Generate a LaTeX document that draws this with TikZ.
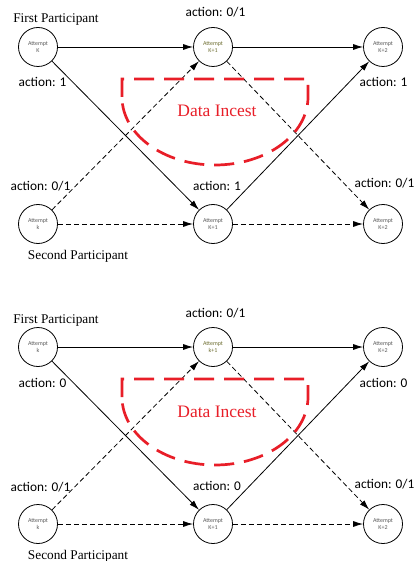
\documentclass[tikz,border=0pt]{standalone}
\usepackage{fontspec}
\setmainfont{Liberation Serif}
\newfontfamily\calib{Carlito}
\usetikzlibrary{arrows.meta}
\definecolor{incred}{RGB}{232,30,40}
\definecolor{nodegrey}{RGB}{90,90,90}
\definecolor{olivetext}{RGB}{110,110,50}
\tikzset{
  att/.style={circle,draw,line width=0.8pt,minimum size=39pt,inner sep=0pt,align=center,
    font=\calib\fontsize{6}{7.5}\selectfont,text=nodegrey},
  act/.style={anchor=base,font=\calib\fontsize{13.3}{15}\selectfont,inner sep=0pt},
  who/.style={anchor=base,font=\fontsize{13.3}{15}\selectfont,inner sep=0pt},
  incesttext/.style={anchor=base,font=\fontsize{17.5}{20}\selectfont,text=incred,inner sep=0pt},
  solidarrow/.style={line width=0.8pt,-{Latex[length=10pt,width=6pt]}},
  dasharrow/.style={line width=0.8pt,dash pattern=on 5pt off 3pt,-{Latex[length=10pt,width=6pt]}},
  incest/.style={draw=incred,line width=2.7pt,dash pattern=on 20pt off 10pt},
}
\newcommand\diagpanel[5]{%
  \begin{scope}[shift={(0,#2)}]
    \node[att] (#1a1) at (38,47) {Attempt\\#3};
    \node[att,text=olivetext] (#1b1) at (213,47) {Attempt\\#4};
    \node[att] (#1c1) at (383,47) {Attempt\\K+2};
    \node[att] (#1a2) at (38,224) {Attempt\\k};
    \node[att] (#1b2) at (213,224) {Attempt\\K+1};
    \node[att] (#1c2) at (383,224) {Attempt\\K+2};
    \draw[solidarrow] (#1a1) -- (#1b1);
    \draw[solidarrow] (#1b1) -- (#1c1);
    \draw[solidarrow] (#1a1) -- (#1b2);
    \draw[solidarrow] (#1b2) -- (#1c1);
    \draw[dasharrow] (#1a2) -- (#1b1);
    \draw[dasharrow] (#1a2) -- (#1b2);
    \draw[dasharrow] (#1b1) -- (#1c2);
    \draw[dasharrow] (#1b2) -- (#1c2);
    \draw[incest] (122,97) -- (122,79) -- (308,79) -- (308,97)
      arc[start angle=0, end angle=-180, x radius=93pt, y radius=68pt];
    \node[incesttext] (#1di) at (217,117) {Data Incest};
    \node[who] (#1fp) at (56,23) {First Participant};
    \node[who] (#1sp) at (78,259) {Second Participant};
    \node[act] (#1l1) at (215.5,17) {action: 0/1};
    \node[act] (#1l2) at (42.5,87) {action: #5};
    \node[act] (#1l3) at (383.5,87) {action: #5};
    \node[act] (#1l4) at (40.5,191) {action: 0/1};
    \node[act] (#1l5) at (217,190) {action: #5};
    \node[act] (#1l6) at (384.5,188) {action: 0/1};
  \end{scope}}
\begin{document}
\begin{tikzpicture}[x=1pt,y=-1pt]
  \useasboundingbox (0,0) rectangle (414,561);
  \diagpanel{t}{0}{K}{K+1}{1}
  \diagpanel{b}{300}{k}{k+1}{0}
\end{tikzpicture}
\end{document}
